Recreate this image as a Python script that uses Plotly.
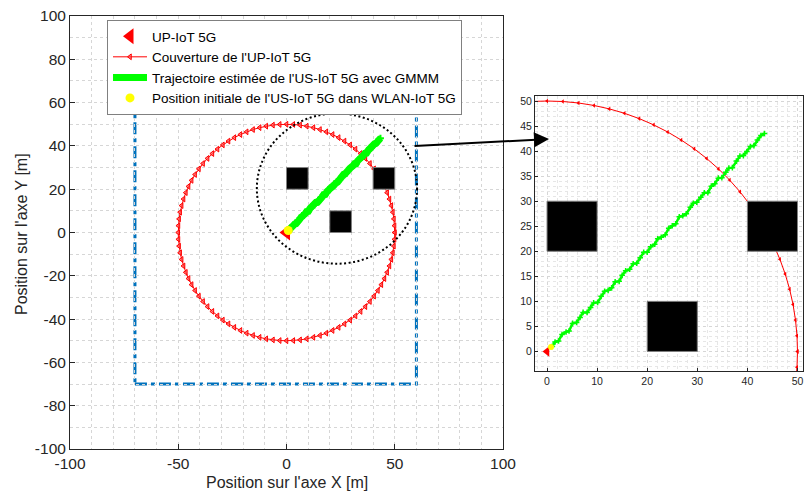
import numpy as np
import plotly.graph_objects as go

# ---------------- data ----------------
bs_x = [0.0]            # UP-IoT 5G position
bs_y = [0.0]
coverage_radius = 50.0  # coverage radius (m)
coverage_points = 100

traj_x = [1.0, 1.6, 2.3, 3.0, 3.8, 4.4, 5.1, 5.9, 6.6, 7.2, 8.0, 8.7, 9.3, 10.1, 10.8,
          11.5, 12.2, 12.9, 13.6, 14.4, 15.0, 15.7, 16.5, 17.2, 17.9, 18.6, 19.3, 20.0,
          20.7, 21.5, 22.1, 22.8, 23.6, 24.3, 25.0, 25.7, 26.4, 27.1, 27.8, 28.6, 29.2,
          29.9, 30.7, 31.4, 32.1, 32.8, 33.5, 34.2, 34.9, 35.7, 36.3, 37.0, 37.8, 38.5,
          39.2, 39.9, 40.6, 41.3, 42.0, 42.7, 43.4]
traj_y = [1.0, 1.9, 2.1, 3.4, 3.9, 4.1, 5.6, 5.8, 6.8, 7.8, 7.8, 8.8, 9.7, 9.8, 11.0,
          12.0, 12.2, 12.7, 13.9, 14.0, 15.2, 16.1, 16.4, 17.5, 17.6, 18.7, 19.8, 19.8,
          20.9, 21.4, 22.5, 22.8, 23.3, 24.6, 25.1, 25.5, 26.9, 27.1, 27.5, 28.8, 29.6,
          29.8, 30.8, 31.7, 31.7, 33.0, 33.5, 34.6, 34.7, 35.8, 36.6, 36.7, 38.0, 39.0,
          39.1, 39.9, 40.9, 41.1, 42.2, 43.1, 43.5]

init_x = [0.8]
init_y = [0.9]

obst_x0 = [0, 40, 20]
obst_y0 = [20, 20, 0]
obst_size = 10

zone_x = [-70, 60]
zone_y = [-70, 60]

zoom_cx, zoom_cy = 23.3, 20.3
zoom_rx, zoom_ry = 37.0, 34.7

names = ["UP-IoT 5G", "Couverture de l'UP-IoT 5G",
         "Trajectoire estimée de l'US-IoT 5G avec GMMM",
         "Position initiale de l'US-IoT 5G dans WLAN-IoT 5G"]

main_xticks = [-100, -50, 0, 50, 100]
main_xlabels = ["-100", "-50", "0", "50", "100"]
main_yticks = [-100, -80, -60, -40, -20, 0, 20, 40, 60, 80, 100]
main_ylabels = ["-100", "-80", "-60", "-40", "-20", "0", "20", "40", "60", "80", "100"]
inset_xticks = [0, 10, 20, 30, 40, 50]
inset_yticks = [0, 5, 10, 15, 20, 25, 30, 35, 40, 45, 50]

xlabel = "Position sur l'axe X [m]"
ylabel = "Position sur l'axe Y [m]"

# coverage circle from its radius
theta = np.linspace(0, 2 * np.pi, coverage_points + 1)
circ_x = bs_x[0] + coverage_radius * np.cos(theta)
circ_y = bs_y[0] + coverage_radius * np.sin(theta)

FONT = "Liberation Sans, Arial, sans-serif"
TXT = "#262626"
GRID = "#d6d6d6"

fig = go.Figure()

# main axes traces
fig.add_trace(go.Scatter(x=bs_x, y=bs_y, mode="markers", name=names[0],
                         marker=dict(symbol="triangle-left", size=14, color="#ff0000"),
                         xaxis="x", yaxis="y"))
fig.add_trace(go.Scatter(x=circ_x, y=circ_y, mode="lines+markers", name=names[1],
                         line=dict(color="#ff0000", width=1),
                         marker=dict(symbol="triangle-left", size=5, color="rgba(255,80,80,0.7)",
                                     line=dict(color="#ff0000", width=1)),
                         xaxis="x", yaxis="y"))
fig.add_trace(go.Scatter(x=traj_x, y=traj_y, mode="lines+markers", name=names[2],
                         line=dict(color="#00ff00", width=7),
                         marker=dict(symbol="cross-thin", size=5, color="#00ff00",
                                     line=dict(color="#00ff00", width=2)),
                         xaxis="x", yaxis="y"))
fig.add_trace(go.Scatter(x=init_x, y=init_y, mode="markers", name=names[3],
                         marker=dict(symbol="circle", size=9, color="#ffff00"),
                         xaxis="x", yaxis="y"))

# inset traces
fig.add_trace(go.Scatter(x=circ_x, y=circ_y, mode="lines+markers", showlegend=False,
                         line=dict(color="#ff0000", width=1),
                         marker=dict(symbol="triangle-left", size=4, color="#ff0000"),
                         xaxis="x2", yaxis="y2"))
fig.add_trace(go.Scatter(x=traj_x, y=traj_y, mode="lines+markers", showlegend=False,
                         line=dict(color="#00ff00", width=2.5),
                         marker=dict(symbol="cross-thin", size=4, color="#00ff00",
                                     line=dict(color="#00ff00", width=1.5)),
                         xaxis="x2", yaxis="y2"))
fig.add_trace(go.Scatter(x=bs_x, y=bs_y, mode="markers", showlegend=False,
                         marker=dict(symbol="triangle-left", size=9, color="#ff0000"),
                         xaxis="x2", yaxis="y2"))
fig.add_trace(go.Scatter(x=init_x, y=init_y, mode="markers", showlegend=False,
                         marker=dict(symbol="circle", size=6, color="#ffff00"),
                         xaxis="x2", yaxis="y2"))

shapes = []
# obstacles in both axes
for xr, yr in (("x", "y"), ("x2", "y2")):
    for x0, y0 in zip(obst_x0, obst_y0):
        shapes.append(dict(type="rect", xref=xr, yref=yr, x0=x0, y0=y0,
                           x1=x0 + obst_size, y1=y0 + obst_size,
                           fillcolor="black", line=dict(color="#808080", width=1),
                           layer="above"))
# zone rectangle
shapes.append(dict(type="rect", xref="x", yref="y", x0=zone_x[0], x1=zone_x[1],
                   y0=zone_y[0], y1=zone_y[1],
                   line=dict(color="#0072BD", width=3, dash="12px,4px,4px,4px"), layer="below"))
# zoom circle
shapes.append(dict(type="circle", xref="x", yref="y",
                   x0=zoom_cx - zoom_rx, x1=zoom_cx + zoom_rx,
                   y0=zoom_cy - zoom_ry, y1=zoom_cy + zoom_ry,
                   line=dict(color="black", width=2, dash="2px,2.5px")))

def axis_common():
    return dict(showline=True, linecolor=TXT, linewidth=1, mirror=True,
                ticks="inside", tickcolor=TXT, zeroline=False, automargin=False,
                showgrid=True, gridcolor=GRID, griddash="dot", gridwidth=1)

fig.update_layout(
    width=804, height=497,
    margin=dict(l=0, r=0, t=0, b=0, autoexpand=False),
    paper_bgcolor="white", plot_bgcolor="white",
    font=dict(family=FONT, color=TXT),
    shapes=shapes,
    xaxis=dict(**axis_common(), domain=[70 / 804, 503 / 804], range=[-100, 100],
               tickmode="array", tickvals=main_xticks, ticktext=main_xlabels,
               ticklen=5, tickfont=dict(size=15.5),
               minor=dict(tick0=0, dtick=10, showgrid=True, gridcolor=GRID, griddash="dot"),
               anchor="y"),
    yaxis=dict(**axis_common(), domain=[48 / 497, 481 / 497], range=[-100, 100],
               tickmode="array", tickvals=main_yticks, ticktext=main_ylabels,
               ticklen=5, tickfont=dict(size=15.5),
               minor=dict(tick0=0, dtick=10, showgrid=True, gridcolor=GRID, griddash="dot"),
               anchor="x"),
    xaxis2=dict(**axis_common(), domain=[535 / 804, 803 / 804], range=[-2.4, 51.1],
                tickmode="array", tickvals=inset_xticks,
                ticklen=3, tickfont=dict(size=10.5),
                minor=dict(tick0=0, dtick=2, showgrid=True, gridcolor="#e6e6e6", griddash="dot"),
                anchor="y2"),
    yaxis2=dict(**axis_common(), domain=[126 / 497, 401 / 497], range=[-3.9, 51.0],
                tickmode="array", tickvals=inset_yticks,
                ticklen=3, tickfont=dict(size=10.5),
                minor=dict(tick0=0, dtick=1, showgrid=True, gridcolor="#e6e6e6", griddash="dot"),
                anchor="x2"),
    legend=dict(x=107 / 804, y=477 / 497, xanchor="left", yanchor="top",
                bgcolor="white", bordercolor="#808080", borderwidth=1,
                itemwidth=34, tracegroupgap=0,
                font=dict(size=13.5, color="black")),
    showlegend=True,
    annotations=[
        dict(x=0.4, y=42.4, xref="x2", yref="y2", ax=-136, ay=7,
             axref="pixel", ayref="pixel", showarrow=True, arrowhead=2,
             arrowsize=1.5, arrowwidth=2, arrowcolor="black", text=""),
        dict(x=286.5 / 804, y=(497 - 482) / 497, xref="paper", yref="paper",
             text=xlabel, showarrow=False, font=dict(size=16, color=TXT),
             xanchor="center", yanchor="middle"),
        dict(x=21 / 804, y=(497 - 234) / 497, xref="paper", yref="paper",
             text=ylabel, showarrow=False, font=dict(size=16, color=TXT),
             textangle=-90, xanchor="center", yanchor="middle"),
    ],
)

fig.write_html("out.html")
